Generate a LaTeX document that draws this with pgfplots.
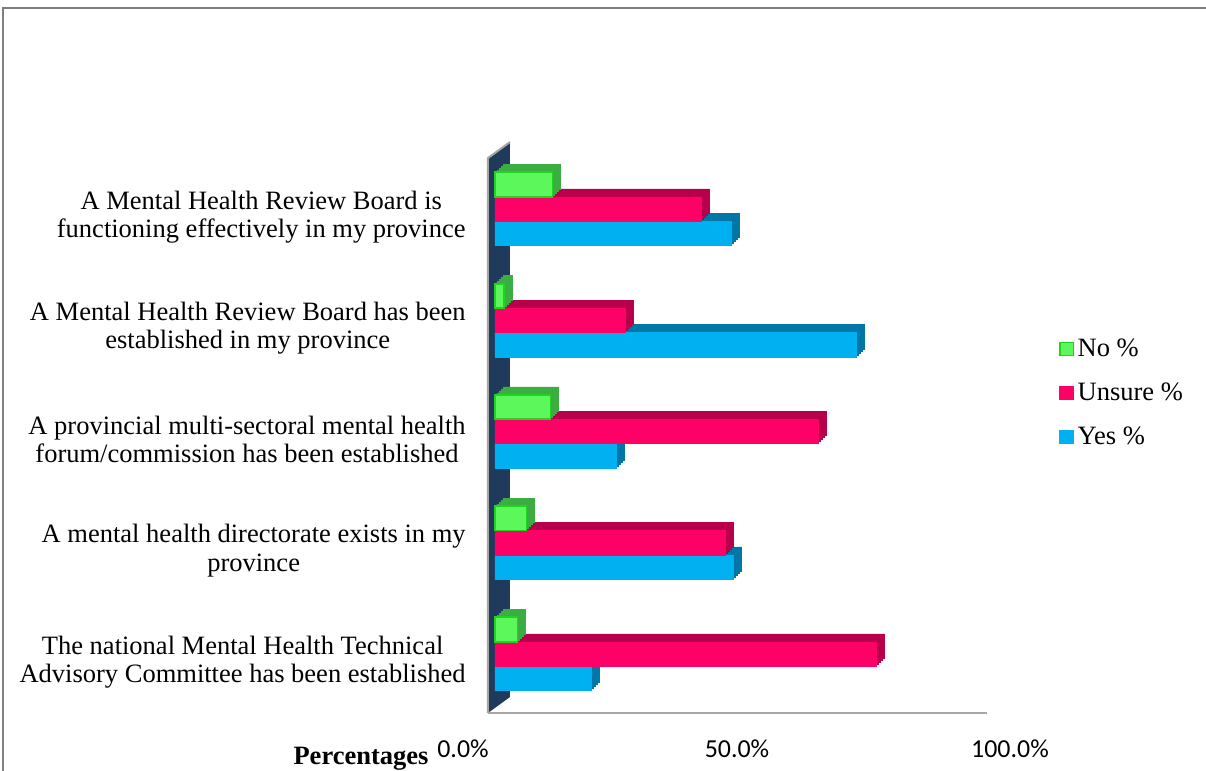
\documentclass[border=0pt]{standalone}
\usepackage{pgfplots}
\pgfplotsset{compat=1.18}
\usepackage{pgfplotstable}
\usepackage{fontspec}
\setmainfont{Liberation Serif}
\newfontfamily\calibri{Carlito}

\definecolor{yesF}{HTML}{00B0F0}
\definecolor{yesD}{HTML}{0077A6}
\definecolor{unsF}{HTML}{FF0066}
\definecolor{unsD}{HTML}{B8004A}
\definecolor{noF}{HTML}{5BF75B}
\definecolor{noE}{HTML}{22D422}
\definecolor{noD}{HTML}{3AAE40}
\definecolor{wallC}{HTML}{203A5C}
\definecolor{borderC}{HTML}{7F7F7F}

% y: 4 = top category ... 0 = bottom category
\pgfplotstableread{
y no unsure yes
4 11.5 41.3 47.2
3 1.8 26.0 72.2
2 11.1 64.6 24.3
1 6.3 46.0 47.7
0 4.5 76.2 19.3
}\survey

\pgfplotsset{
  sqlegend/.style={legend image code/.code={
    \draw[##1, line width=0.6pt] (0pt,-3.3pt) rectangle (6.6pt,3.3pt);}},
}

\begin{document}
\begin{tikzpicture}[font=\fontsize{13.3}{14.2}\selectfont]
\useasboundingbox (0,0) rectangle (603bp,-385.5bp);
\fill[white] (-2bp,2bp) rectangle (606bp,-388bp);
\clip (0,0) rectangle (603bp,-385.5bp);
% frame, wall and floor (pixel units, origin top left)
\begin{scope}[x=0.5bp,y=-0.5bp]
  \draw[borderC, line width=1bp] (3,780) -- (3,8) -- (1220,8);
  \fill[wallC] (488,158) -- (510,142) -- (510,697) -- (488,713) -- cycle;
  \draw[gray!70, line width=1bp] (488,713) -- (488,158) -- (510,142);
  \draw[gray!70, line width=1bp] (488,713) -- (987,713);
\end{scope}
\begin{axis}[
  at={(247.5bp,-354.8bp)}, anchor=south west,
  scale only axis, width=250bp, height=278.125bp,
  xbar, bar width=12.2bp,
  xmin=0, xmax=100, ymin=-0.5, ymax=4.5,
  clip=false,
  axis line style={draw=none}, major tick length=0pt,
  xtick={0,50,100},
  xticklabels={0.0\%\kern24bp, 50.0\%, \kern23bp\relax 100.0\%},
  xticklabel style={font=\calibri\fontsize{13}{15}\selectfont, anchor=base, yshift=-23.7bp, xshift=-4bp},
  ytick={0,1,2,3,4},
  yticklabels={
    {The national Mental Health Technical\\Advisory Committee has been established},
    {A mental health directorate exists in my\\province},
    {A provincial multi-sectoral mental health\\forum/commission has been established},
    {A Mental Health Review Board has been\\established in my province},
    {A Mental Health Review Board is\\functioning effectively in my province}},
  yticklabel style={align=center, anchor=east, inner sep=0pt, xshift=-14.5bp, yshift=-4bp},
  xlabel={Percentages},
  xlabel style={at={(axis description cs:-0.268,-0.098)}, anchor=base,
    font=\fontsize{13.3}{14.2}\selectfont\bfseries},
  legend style={at={(1.116,0.682)}, anchor=north west, draw=none, fill=none, row sep=7.75pt},
  legend cell align=left, reverse legend,
]
% Yes %
\pgfplotsinvokeforeach{1,2,3,4}{
  \addplot[forget plot, fill=yesD, draw=yesD, line width=0.2pt, bar shift=-12.2bp, xshift=#1bp, yshift=#1bp] table[x=yes,y=y]{\survey};
}
\addplot[fill=yesF, draw=yesF, line width=0.2pt, bar shift=-12.2bp, sqlegend] table[x=yes,y=y]{\survey};
% Unsure %
\pgfplotsinvokeforeach{1,2,3,4}{
  \addplot[forget plot, fill=unsD, draw=unsD, line width=0.2pt, bar shift=0pt, xshift=#1bp, yshift=#1bp] table[x=unsure,y=y]{\survey};
}
\addplot[fill=unsF, draw=unsF, line width=0.2pt, bar shift=0pt, sqlegend] table[x=unsure,y=y]{\survey};
% No %
\pgfplotsinvokeforeach{1,2,3,4}{
  \addplot[forget plot, fill=noD, draw=noD, line width=0.2pt, bar shift=12.2bp, xshift=#1bp, yshift=#1bp] table[x=no,y=y]{\survey};
}
\addplot[fill=noF, draw=noE, line width=0.9pt, bar shift=12.2bp, sqlegend] table[x=no,y=y]{\survey};
\legend{Yes \%, Unsure \%, No \%}
\end{axis}
\end{tikzpicture}
\end{document}
